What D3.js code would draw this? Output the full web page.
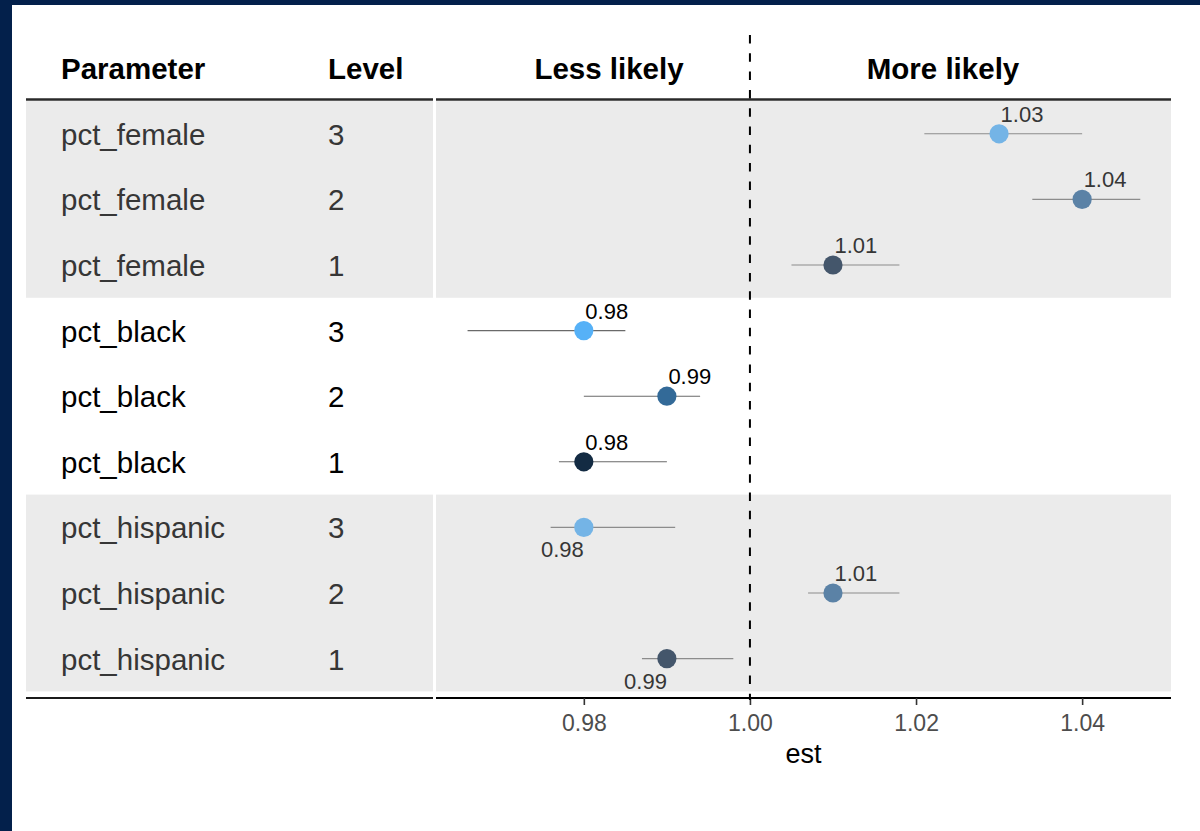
<!DOCTYPE html>
<html>
<head>
<meta charset="utf-8">
<script src="https://cdn.jsdelivr.net/npm/d3@7"></script>
<style>
  html, body { margin: 0; padding: 0; background: #ffffff; }
  svg { display: block; font-family: "Liberation Sans", Arial, sans-serif; }
</style>
</head>
<body>
<svg id="chart" width="1200" height="831"></svg>
<script>
// Odds-ratio style estimates with confidence intervals, one row per parameter level
const parameters = ["pct_female", "pct_female", "pct_female",
                    "pct_black", "pct_black", "pct_black",
                    "pct_hispanic", "pct_hispanic", "pct_hispanic"];
const levels = [3, 2, 1, 3, 2, 1, 3, 2, 1];
const estimates = [1.03, 1.04, 1.01, 0.98, 0.99, 0.98, 0.98, 1.01, 0.99];
const lowerCI = [1.021, 1.034, 1.005, 0.966, 0.980, 0.977, 0.976, 1.007, 0.987];
const upperCI = [1.040, 1.047, 1.018, 0.985, 0.994, 0.990, 0.991, 1.018, 0.998];
const groups = ["pct_female", "pct_black", "pct_hispanic"];
const xTicks = [0.98, 1.00, 1.02, 1.04];
const columnHeaders = ["Parameter", "Level"];
const directionLabels = ["Less likely", "More likely"];
const xTitle = "est";

const rows = parameters.map((p, i) => ({
  i, param: p, level: levels[i], est: estimates[i], lo: lowerCI[i], hi: upperCI[i]
}));

// ---- layout ----
const svg = d3.select("#chart");
const tableLeft = 26, tableRight = 433;
const plotLeft = 436, plotRight = 1171;
const rowsTop = 101, rowH = 65.6;
const axisY = 698;
const shadedGroups = new Set(["pct_female", "pct_hispanic"]);
const labelsBelow = new Set([6, 8]);

const palette = {
  plain:  { 3: "#56b1f7", 2: "#336a98", 1: "#132b43" },
  shaded: { 3: "#74b4e6", 2: "#5b82a6", 1: "#44566b" }
};

const x = d3.scaleLinear().domain([0.9622, 1.0507]).range([plotLeft, plotRight]);
const y = d3.scaleBand().domain(d3.range(rows.length)).range([rowsTop, rowsTop + rowH * rows.length]);
const cy = i => y(i) + y.bandwidth() / 2;

// frame strips
svg.append("rect").attr("x", 0).attr("y", 0).attr("width", 1200).attr("height", 5).attr("fill", "#03204b");
svg.append("rect").attr("x", 0).attr("y", 0).attr("width", 12).attr("height", 831).attr("fill", "#03204b");

// shaded group bands (table + plot panels)
groups.forEach(g => {
  if (!shadedGroups.has(g)) return;
  const idx = rows.filter(r => r.param === g).map(r => r.i);
  const top = y(d3.min(idx));
  const bottom = y(d3.max(idx)) + y.bandwidth();
  [[tableLeft, tableRight], [plotLeft, plotRight]].forEach(([a, b]) => {
    svg.append("rect")
      .attr("x", a).attr("y", top)
      .attr("width", b - a).attr("height", bottom - top)
      .attr("fill", "#ebebeb");
  });
});

// header rules
svg.append("line").attr("x1", tableLeft).attr("x2", tableRight).attr("y1", 99.5).attr("y2", 99.5)
  .attr("stroke", "#2a2a2a").attr("stroke-width", 2.4);
svg.append("line").attr("x1", plotLeft).attr("x2", plotRight).attr("y1", 99.5).attr("y2", 99.5)
  .attr("stroke", "#2a2a2a").attr("stroke-width", 2.4);
svg.append("line").attr("x1", tableLeft).attr("x2", tableRight).attr("y1", axisY).attr("y2", axisY)
  .attr("stroke", "#1a1a1a").attr("stroke-width", 2);

// column headers
const headerFont = { "font-size": "29.5px", "font-weight": "bold", "fill": "#000" };
const hdr = svg.append("g");
[[columnHeaders[0], 61, "start"], [columnHeaders[1], 328, "start"],
 [directionLabels[0], 609, "middle"], [directionLabels[1], 943, "middle"]].forEach(([t, hx, anchor]) => {
  const el = hdr.append("text").attr("x", hx).attr("y", 79).attr("text-anchor", anchor).text(t);
  Object.entries(headerFont).forEach(([k, v]) => el.attr(k, v));
});

// table text
const table = svg.append("g").attr("font-size", "29.5px");
rows.forEach(r => {
  const col = shadedGroups.has(r.param) ? "#363636" : "#000000";
  table.append("text").attr("x", 61).attr("y", cy(r.i) + 11).attr("fill", col).text(r.param);
  table.append("text").attr("x", 328).attr("y", cy(r.i) + 11).attr("fill", col).text(r.level);
});

// x axis
const axis = svg.append("g")
  .attr("transform", `translate(0,${axisY})`)
  .call(d3.axisBottom(x).tickValues(xTicks).tickFormat(d3.format(".2f")).tickSize(7).tickSizeOuter(0).tickPadding(10));
axis.select(".domain").attr("stroke", "#000").attr("stroke-width", 2.2)
  .attr("d", `M${plotLeft},0H${plotRight}`);
axis.selectAll(".tick line").attr("stroke", "#333").attr("stroke-width", 1.6);
axis.selectAll(".tick text").attr("fill", "#4d4d4d").attr("font-size", "23px")
  .attr("font-family", "'Liberation Sans', Arial, sans-serif");

svg.append("text").attr("x", (plotLeft + plotRight) / 2).attr("y", 763)
  .attr("text-anchor", "middle").attr("font-size", "27px").attr("fill", "#000").text(xTitle);

// reference line at 1
svg.append("line")
  .attr("x1", x(1)).attr("x2", x(1)).attr("y1", 35).attr("y2", axisY + 2)
  .attr("stroke", "#000").attr("stroke-width", 2).attr("stroke-dasharray", "8.5,9.8");

// confidence intervals
const marks = svg.append("g");
marks.selectAll("line.ci").data(rows).join("line")
  .attr("class", "ci")
  .attr("x1", d => x(d.lo)).attr("x2", d => x(d.hi))
  .attr("y1", d => cy(d.i)).attr("y2", d => cy(d.i))
  .attr("stroke", d => shadedGroups.has(d.param) ? "#8c8c8c" : "#6a6a6a")
  .attr("stroke-width", 1.1);

// point estimates
marks.selectAll("circle").data(rows).join("circle")
  .attr("cx", d => x(d.est)).attr("cy", d => cy(d.i)).attr("r", 9.6)
  .attr("fill", d => palette[shadedGroups.has(d.param) ? "shaded" : "plain"][d.level]);

// value labels
marks.selectAll("text.val").data(rows).join("text")
  .attr("class", "val")
  .attr("font-size", "22px")
  .attr("fill", d => shadedGroups.has(d.param) ? "#363636" : "#000")
  .attr("text-anchor", d => labelsBelow.has(d.i) ? "end" : "start")
  .attr("x", d => labelsBelow.has(d.i) ? x(d.est) : x(d.est) + 1.5)
  .attr("y", d => labelsBelow.has(d.i) ? cy(d.i) + 30 : cy(d.i) - 12)
  .text(d => d3.format(".2f")(d.est));
</script>
</body>
</html>
